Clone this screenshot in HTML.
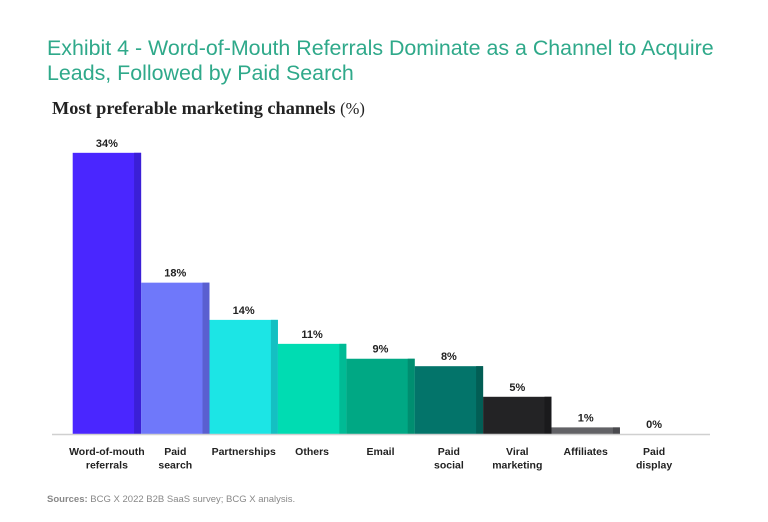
<!DOCTYPE html>
<html><head><meta charset="utf-8"><style>
body{margin:0;background:#fff;width:768px;height:522px;overflow:hidden;font-family:"Liberation Sans",sans-serif}
.t{position:absolute;left:47px;top:36px;color:#2fa98a;font-size:21.4px;line-height:25px;font-weight:normal}
.s{position:absolute;left:52px;top:98px;font-family:"Liberation Serif",serif;font-size:18.3px;color:#222;font-weight:bold}
.s span{font-weight:normal;font-size:16.5px}
.src{position:absolute;left:47px;top:494px;font-size:9.5px;color:#888}
</style></head><body>
<div class="t">Exhibit 4 - Word-of-Mouth Referrals Dominate as a Channel to Acquire<br>Leads, Followed by Paid Search</div>
<div class="s">Most preferable marketing channels <span>(%)</span></div>
<svg id="c" width="768" height="522" style="position:absolute;left:0;top:0"></svg>
<div class="src"><b>Sources:</b> BCG X 2022 B2B SaaS survey; BCG X analysis.</div>
<script>
const categories=[["Word-of-mouth","referrals"],["Paid","search"],["Partnerships"],["Others"],["Email"],["Paid","social"],["Viral","marketing"],["Affiliates"],["Paid","display"]];
const values=[34,18.3,13.8,10.9,9.1,8.2,4.5,0.8,0];
const labels=["34%","18%","14%","11%","9%","8%","5%","1%","0%"];
const colors=["#4a26ff","#6f78fa","#1ce5e5","#00dcb2","#00a884","#03746a","#232325","#626266","#cccccc"];
const sides=["#3b1fd6","#5a5fd0","#14c0c2","#00bb95","#008e70","#025e55","#1a1a1c","#4a4a4e","#bbbbbb"];
const svg=document.getElementById('c');const NS="http://www.w3.org/2000/svg";
const x0=72.7,bw=68.4,base=434,k=8.27;
const x=i=>x0+i*bw, y=v=>base-v*k;
function mk(t,a){const e=document.createElementNS(NS,t);for(const q in a)e.setAttribute(q,a[q]);svg.appendChild(e);return e;}
values.forEach((v,i)=>{
 const h=base-y(v);
 if(h>0){
  const r=mk('rect',{x:x(i),y:y(v),width:bw,height:h,fill:colors[i]});
  
  
  const s=mk('rect',{x:x(i)+bw-7,y:y(v),width:7,height:h,fill:sides[i]});
  
  
 }
 const t=mk('text',{x:x(i)+bw/2,y:y(v)-6,'text-anchor':'middle','font-size':'11','font-weight':'bold',fill:'#222'});
 t.textContent=labels[i];
 
 
 categories[i].forEach((ln,j)=>{
  const c=mk('text',{x:x(i)+bw/2,y:455+j*13.5,'text-anchor':'middle','font-size':'10.5','font-weight':'bold',fill:'#222'});
  c.textContent=ln;
  
  
 });
});
const ax=mk('line',{x1:52,x2:710,y1:base+0.5,y2:base+0.5,stroke:'#d0d0d0','stroke-width':1.5});


</script>
</body></html>
